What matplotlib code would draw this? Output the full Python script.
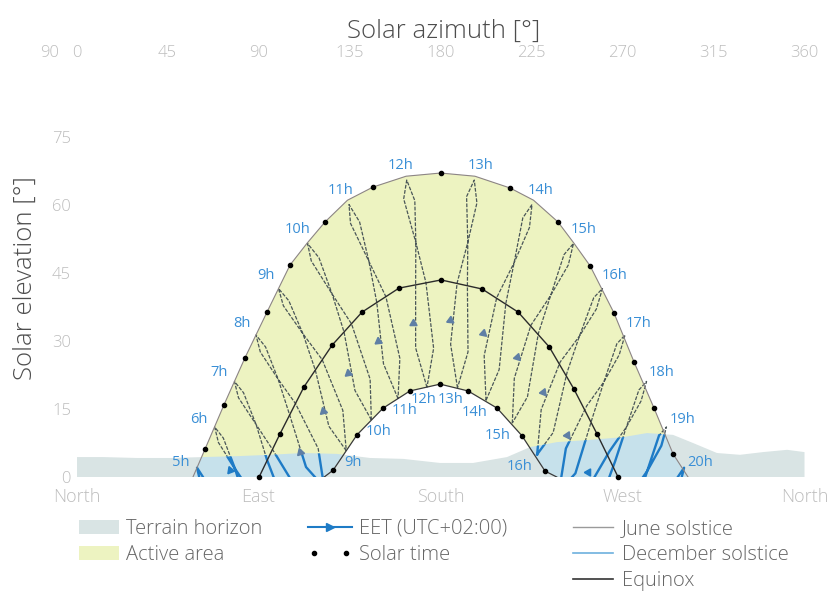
import numpy as np
import matplotlib
matplotlib.use("Agg")
import matplotlib.pyplot as plt
import matplotlib.transforms as mtransforms
from matplotlib.patches import Polygon, Patch
from matplotlib.lines import Line2D
from matplotlib.legend_handler import HandlerLine2D

plt.rcParams['font.family'] = ['Open Sans', 'DejaVu Sans']
plt.rcParams['font.weight'] = 'light'

# ---------------- data ----------------
az_ticks = [0, 45, 90, 135, 180, 225, 270, 315, 360]
el_ticks = [0, 15, 30, 45, 60, 75, 90]
compass_pos = [0, 90, 180, 270, 360]
compass_labels = ['North', 'East', 'South', 'West', 'North']

# June solstice: solar-time dots and extra points along the line
june_dot_az = [63.6, 72.9, 83.3, 94.2, 105.6, 122.9, 146.6, 180.0, 214.4, 238.1, 254.0, 265.8, 275.7, 285.6, 295.0]
june_dot_el = [6.2, 15.9, 26.3, 36.4, 46.8, 56.3, 64.0, 67.1, 63.8, 56.3, 46.6, 36.2, 25.4, 15.2, 5.1]
june_extra_az = [57.6, 114.0, 134.0, 163.0, 197.0, 226.0, 246.0, 302.4]
june_extra_el = [0.0, 51.6, 61.1, 66.4, 66.4, 61.1, 51.6, 0.0]

# Equinox
eq_dot_az = [90.3, 100.6, 112.5, 126.4, 141.2, 159.5, 180.3, 200.6, 218.4, 233.8, 246.0, 257.4, 267.8]
eq_dot_el = [0.0, 9.5, 19.9, 29.1, 36.4, 41.7, 43.5, 41.5, 36.4, 28.7, 19.4, 9.5, 0.0]

# December solstice
dec_dot_az = [126.9, 138.7, 151.6, 164.9, 179.8, 193.6, 208.0, 220.3, 231.7]
dec_dot_el = [1.5, 9.3, 15.2, 19.0, 20.5, 19.0, 15.2, 9.1, 1.3]
dec_extra_az = [122.5, 237.5]
dec_extra_el = [0.0, 0.0]

# Terrain horizon profile
terrain_az = [0, 13.1, 29.9, 46.2, 62.6, 79.4, 95.7, 112.0, 128.8, 145.2, 161.5, 179.8, 196.1,
              212.9, 224.3, 237.6, 254.0, 270.3, 282.1, 295.0, 304.9, 316.7, 328.1, 339.5, 351.4, 360]
terrain_el = [4.4, 4.4, 4.2, 4.2, 4.4, 4.6, 4.9, 5.3, 5.1, 4.2, 4.0, 3.1, 3.1,
              4.4, 6.6, 7.7, 8.2, 8.8, 9.7, 9.3, 7.5, 5.3, 4.9, 5.5, 6.0, 5.5]

# EET hour analemmas (loop: Dec, Feb, Mar, cross, May, Jun, Jul, cross, Sep, Nov, Dec)
ana_hours = [5, 6, 7, 8, 9, 10, 11, 12, 13, 14, 15, 16, 17, 18, 19, 20]
ana_az = [
    [93.5, 83.3, 73.2, 68.6, 63.4, 59.6, 61.4, 68.6, 75.7, 89.2, 93.5],
    [103.3, 93.4, 83.6, 78.4, 72.6, 68.3, 70.2, 78.4, 86.3, 99.2, 103.3],
    [112.8, 103.3, 94.2, 88.8, 82.6, 78.1, 80.1, 88.8, 96.9, 109.2, 112.8],
    [122.5, 113.5, 105.4, 99.7, 93.5, 88.75, 90.9, 99.7, 108.3, 119.5, 122.5],
    [133.4, 124.8, 118.1, 112.0, 105.0, 99.9, 102.3, 112.0, 121.5, 131.7, 133.4],
    [145.8, 137.7, 132.3, 126.4, 119.9, 114.25, 116.1, 126.4, 136.0, 145.2, 145.8],
    [159.0, 151.8, 148.5, 144.6, 140.0, 134.75, 135.5, 144.6, 153.0, 159.9, 159.0],
    [173.3, 167.7, 167.7, 167.8, 167.3, 163.3, 161.8, 167.8, 172.8, 176.6, 173.3],
    [188.4, 185.0, 188.2, 193.5, 198.0, 196.7, 192.9, 193.5, 193.3, 193.6, 188.4],
    [202.5, 201.6, 207.8, 216.4, 224.0, 225.25, 220.7, 216.4, 212.3, 209.0, 202.5],
    [215.5, 216.5, 224.7, 234.5, 243.2, 245.75, 241.1, 234.5, 228.4, 223.0, 215.5],
    [227.8, 229.8, 239.2, 248.7, 257.1, 260.1, 255.8, 248.7, 242.6, 235.7, 227.8],
    [238.6, 242.0, 252.3, 260.8, 268.4, 271.25, 267.2, 260.8, 255.2, 246.7, 238.6],
    [248.3, 252.4, 263.6, 271.9, 279.2, 281.9, 278.1, 271.9, 266.3, 256.8, 248.3],
    [257.8, 262.3, 274.2, 282.2, 289.2, 291.75, 288.1, 282.2, 276.9, 266.4, 257.8],
    [267.5, 272.3, 284.8, 292.0, 298.1, 300.45, 297.2, 292.0, 287.3, 276.9, 267.5],
]
ana_el = [
    [-27.6, -24.3, -15.2, -7.5, -0.6, 2.05, -1.4, -7.5, -12.9, -20.5, -27.6],
    [-19.3, -15.7, -5.7, 1.8, 8.6, 11.05, 7.6, 1.8, -3.4, -11.7, -19.3],
    [-10.8, -6.8, 3.8, 11.6, 18.6, 21.1, 17.5, 11.6, 6.1, -2.9, -10.8],
    [-2.3, 2.2, 13.7, 21.6, 28.7, 31.35, 27.6, 21.6, 16.2, 6.3, -2.3],
    [5.8, 11.2, 23.6, 31.6, 38.9, 41.6, 37.8, 31.6, 25.9, 14.7, 5.8],
    [12.6, 19.1, 32.0, 40.4, 48.4, 51.55, 47.7, 40.4, 33.8, 21.6, 12.6],
    [17.3, 25.0, 38.5, 47.6, 56.3, 60.15, 56.0, 47.6, 39.8, 26.2, 17.3],
    [19.8, 28.5, 42.4, 51.8, 61.0, 65.55, 61.4, 51.8, 42.9, 28.4, 19.8],
    [19.7, 29.3, 42.8, 51.8, 60.5, 65.55, 61.9, 51.8, 42.3, 27.6, 19.7],
    [16.9, 26.8, 39.6, 47.3, 55.1, 60.15, 57.2, 47.3, 38.3, 23.7, 16.9],
    [11.9, 21.8, 33.5, 40.1, 46.8, 51.55, 49.1, 40.1, 31.7, 17.7, 11.9],
    [5.0, 14.9, 25.4, 31.1, 37.1, 41.6, 39.6, 31.1, 23.1, 9.8, 5.0],
    [-3.2, 6.3, 15.7, 21.0, 27.0, 31.35, 29.4, 21.0, 13.2, 0.8, -3.2],
    [-11.7, -2.9, 5.7, 11.0, 16.8, 21.1, 19.2, 11.0, 3.4, -8.1, -11.7],
    [-20.2, -11.8, -3.8, 1.3, 6.9, 11.05, 9.2, 1.3, -6.1, -17.0, -20.2],
    [-28.4, -20.7, -13.3, -8.0, -2.2, 2.05, -0.1, -8.0, -15.6, -25.5, -28.4],
]

# direction arrows on the EET lines
arrow_hour = [6, 8, 9, 10, 11, 12, 13, 14, 15, 16, 17, 18]
arrow_az = [75.9, 110.5, 121.9, 134.3, 149.1, 166.4, 184.7, 201.0, 217.8, 230.7, 242.6, 252.9]
arrow_el = [1.5, 5.5, 14.6, 23.0, 30.0, 34.0, 34.7, 31.8, 26.5, 18.8, 9.3, 1.0]

# ---------------- figure ----------------
W, H = 827, 601
fig = plt.figure(figsize=(W / 100, H / 100), dpi=100)
ax = fig.add_axes([76.5 / W, 1 - 477 / H, 728 / W, 407.7 / H])
ax.set_xlim(0, 360)
ax.set_ylim(0, 90)
for s in ax.spines.values():
    s.set_visible(False)

TERRAIN = '#d9e4e4'
OVERLAP = '#c6e1eb'
ACTIVE = '#edf3c1'
EET_BLUE = '#1e7bc6'
LABEL_BLUE = '#3a8fd6'

terrain_poly = ax.fill(terrain_az + [360, 0], terrain_el + [-5, -5], color=TERRAIN, lw=0, zorder=1)[0]
above = Polygon(np.column_stack([terrain_az + [360, 0], terrain_el + [100, 100]]),
                closed=True, transform=ax.transData)

june_pts = sorted(zip(june_dot_az + june_extra_az, june_dot_el + june_extra_el))
june_az_l = [p[0] for p in june_pts]
june_el_l = [p[1] for p in june_pts]
dec_pts = sorted(zip(dec_dot_az + dec_extra_az, dec_dot_el + dec_extra_el))
dec_az_l = [p[0] for p in dec_pts]
dec_el_l = [p[1] for p in dec_pts]

act_az = june_az_l + dec_az_l[::-1]
act_el = june_el_l + dec_el_l[::-1]
ax.fill(act_az, act_el, color=OVERLAP, lw=0, zorder=2)
yel = ax.fill(act_az, act_el, color=ACTIVE, lw=0, zorder=3)[0]
yel.set_clip_path(above)

# analemma lines
for az_l, el_l in zip(ana_az, ana_el):
    l1, = ax.plot(az_l, el_l, color='#4a5658', lw=0.9, ls=(0, (3, 1.2)), zorder=4)
    l1.set_clip_path(above)
    l2, = ax.plot(az_l, el_l, color=EET_BLUE, lw=1.7, zorder=4)
    l2.set_clip_path(terrain_poly)

# sun paths
ax.plot(june_az_l, june_el_l, color='#8d8585', lw=0.8, zorder=5)
ax.plot(eq_dot_az, eq_dot_el, color='#2b2b2b', lw=1.0, zorder=5)
ax.plot(dec_az_l, dec_el_l, color='#3a3a3a', lw=0.9, zorder=5)
ax.plot(june_dot_az + eq_dot_az + dec_dot_az, june_dot_el + eq_dot_el + dec_dot_el,
        ls='none', marker='o', ms=3, color='black', zorder=6, clip_on=False)

# arrows
for h, a, e in zip(arrow_hour, arrow_az, arrow_el):
    i = ana_hours.index(h)
    pts = ax.transData.transform(np.column_stack([ana_az[i][:5], ana_el[i][:5]]))
    p = ax.transData.transform((a, e))
    best, ang = 1e9, 90.0
    for k in range(len(pts) - 1):
        s0, s1 = pts[k], pts[k + 1]
        d = s1 - s0
        t = np.clip(np.dot(p - s0, d) / np.dot(d, d), 0, 1)
        dist = np.hypot(*(s0 + t * d - p))
        if dist < best:
            best, ang = dist, np.degrees(np.arctan2(d[1], d[0]))
    col = EET_BLUE if terrain_poly.contains_point(p) else '#5f7fa5'
    ax.plot([a], [e], ls='none', marker=(3, 0, ang - 90), ms=6, color=col, zorder=7, clip_on=False)

# hour labels
c = ax.transData.transform((180, 0))
for h, az_l, el_l in zip(ana_hours, ana_az, ana_el):
    ja, je = az_l[5], el_l[5]
    p = ax.transData.transform((ja, je))
    v = p - c
    u = v / np.hypot(*v)
    sgn = -1 if ja < 180 else 1
    ax.annotate(f'{h}h', (ja, je), xytext=(11 * u[0] + 5 * sgn, 10 * u[1] + 5),
                textcoords='offset pixels', ha='center', va='center', fontsize=10.5,
                fontweight='normal', color=LABEL_BLUE, zorder=8, annotation_clip=False)
    da, de = az_l[0], el_l[0]
    if de > 0:
        dx = 7 if da < 170 else -(5 + 15 * (da - 180) / 55)
        ax.annotate(f'{h}h', (da, de), xytext=(dx, -12), textcoords='offset pixels',
                    ha='center', va='center', fontsize=10.5, fontweight='normal',
                    color=LABEL_BLUE, zorder=8, annotation_clip=False)

# axes ticks
ax.xaxis.tick_top()
ax.set_xticks(az_ticks)
ax.set_xticklabels([str(v) for v in az_ticks])
ax.tick_params(axis='x', length=0, pad=6, labelsize=12, labelcolor='#bdbdbd')
ax.set_yticks(el_ticks)
ax.set_yticklabels([str(v) for v in el_ticks])
ax.tick_params(axis='y', length=0, pad=4, labelsize=12, labelcolor='#bdbdbd')
top_lab = ax.get_yticklabels()[-1]
top_lab.set_transform(top_lab.get_transform() +
                      mtransforms.ScaledTranslation(-12 / 100, 18 / 100, fig.dpi_scale_trans))
sec = ax.secondary_xaxis('bottom')
sec.set_xticks(compass_pos, labels=compass_labels)
sec.tick_params(length=0, pad=8, labelsize=13, labelcolor='#bdbdbd')
for s in sec.spines.values():
    s.set_visible(False)

fig.text(444 / W, 1 - 31 / H, 'Solar azimuth [°]', ha='center', va='center', fontsize=18.5, color='#4d4d4d')
fig.text(25 / W, 1 - 278 / H, 'Solar elevation [°]', rotation=90, ha='center', va='center',
         fontsize=18.5, color='#4d4d4d')

# legends
h_terrain = Patch(facecolor=TERRAIN, edgecolor='none')
h_active = Patch(facecolor=ACTIVE, edgecolor='none')
h_eet = Line2D([], [], color=EET_BLUE, lw=1.5, marker='>', ms=6)
h_solar = Line2D([], [], color='black', ls='none', marker='o', ms=3)
h_june = Line2D([], [], color='#9a9a9a', lw=1)
h_dec = Line2D([], [], color='#6db0de', lw=1.2)
h_eq = Line2D([], [], color='#333333', lw=1.2)
common = dict(frameon=False, fontsize=14.5, labelcolor='#666666', borderpad=0, borderaxespad=0,
              labelspacing=0.3, loc='upper left')
fig.legend([h_terrain, h_active], ['Terrain horizon', 'Active area'],
           bbox_to_anchor=(79 / W, 1 - 519 / H), handlelength=2.0, handletextpad=0.35, **common)
fig.legend([h_eet, h_solar], ['EET (UTC+02:00)', 'Solar time'],
           bbox_to_anchor=(308 / W, 1 - 519 / H), handlelength=2.2, handletextpad=0.35,
           handler_map={h_eet: HandlerLine2D(numpoints=1), h_solar: HandlerLine2D(numpoints=2)}, **common)
fig.legend([h_june, h_dec, h_eq], ['June solstice', 'December solstice', 'Equinox'],
           bbox_to_anchor=(573 / W, 1 - 519 / H), handlelength=2.0, handletextpad=0.45, **common)

fig.savefig('out.png', dpi=100)
